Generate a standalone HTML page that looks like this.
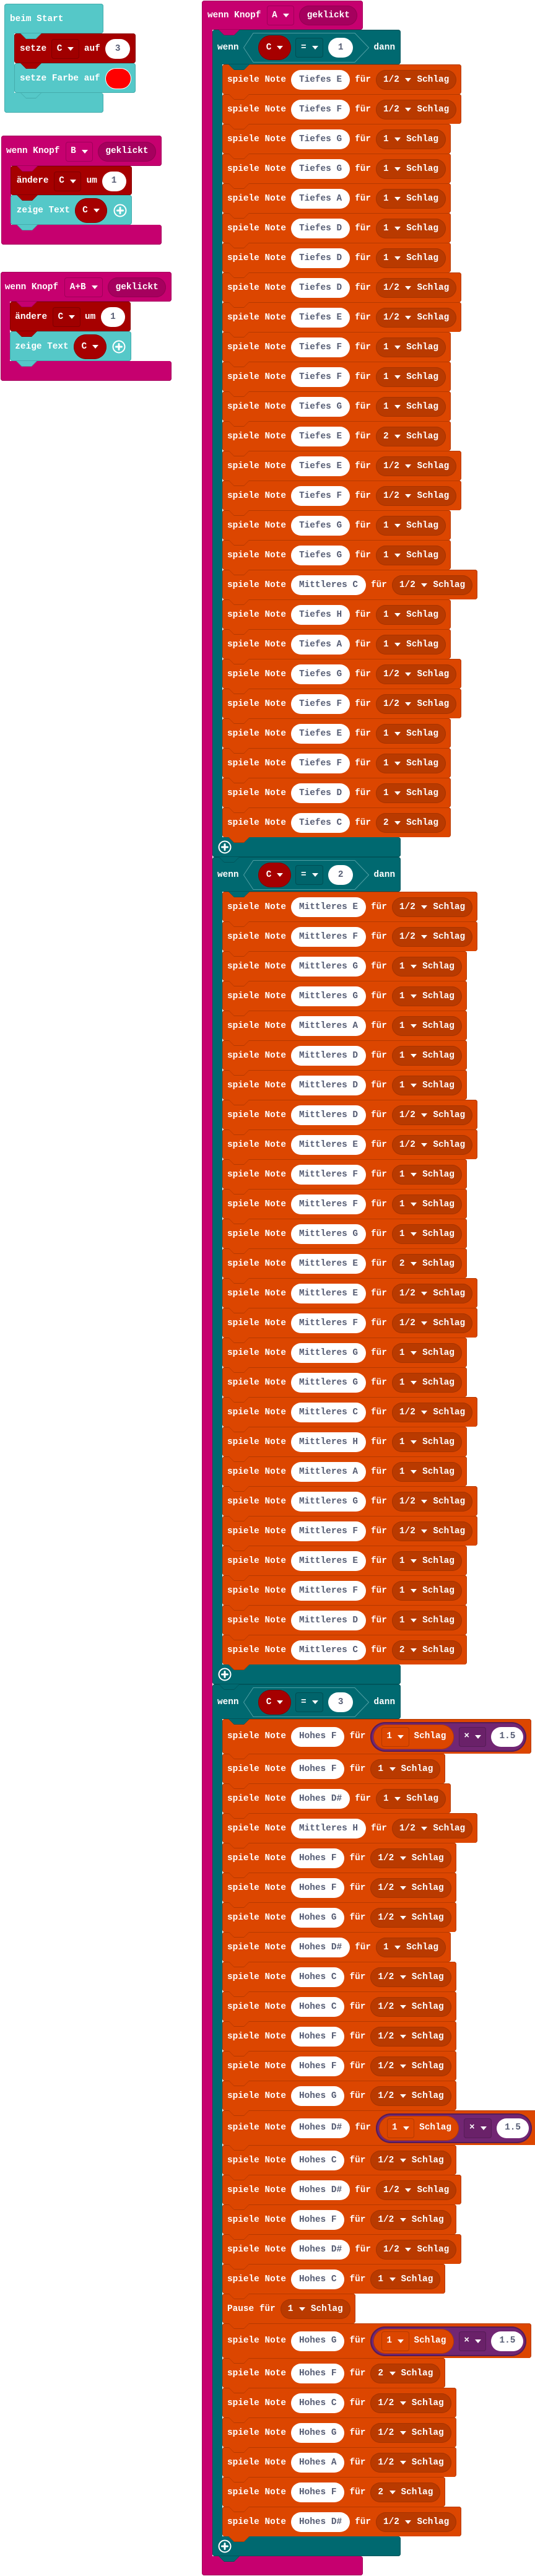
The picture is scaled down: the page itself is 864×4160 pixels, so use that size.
<!DOCTYPE html>
<html><head><meta charset="utf-8">
<style>
*{box-sizing:border-box;margin:0;padding:0}
html,body{width:864px;height:4160px}
body{background:#fff;position:relative;overflow:hidden;font-family:"Liberation Mono","DejaVu Sans Mono",monospace;font-weight:bold;font-size:14.4px;color:#fff;line-height:1;white-space:nowrap}
i{font-style:normal}
b{font-weight:inherit}
.A{position:absolute}
.fx{display:flex;align-items:center}
.mg{background:#c6006f;box-shadow:inset 0 0 0 1px #a3005b}
.tl{background:#006970;box-shadow:inset 0 0 0 1px #00555b}
.lt{background:#55c8c8;box-shadow:inset 0 0 0 1px #44acac}
.rd{background:#a60000;box-shadow:inset 0 0 0 1px #870000}
.r{position:relative;display:flex;align-items:center;width:max-content;height:48px;padding:2px 8px 0;gap:8px;background:#dc4600;border-radius:4px;box-shadow:inset 0 1px 0 #b53900,inset 1px 0 0 #b53900,inset -1px 0 0 #b53900}
.r.q{height:56px;padding-top:1px}
.r::before,.r::after{content:"";position:absolute;top:100%;z-index:2}
.r::before{left:10px;width:34px;height:9px;background:#b53900;clip-path:polygon(0 0,100% 0,calc(100% - 9px) 100%,9px 100%)}
.r::after{left:11px;width:32px;height:8px;background:#dc4600;clip-path:polygon(0 0,100% 0,calc(100% - 8px) 100%,8px 100%)}
.p{display:flex;align-items:center;justify-content:center;height:32px;padding:0 13px;border-radius:16px;background:#fff;color:#575e75}
.d{display:flex;align-items:center;height:32px;padding:0 12px;border-radius:16px;background:#b93a00;box-shadow:inset 0 0 0 1px #a63300}
.a{display:block;width:0;height:0;border-left:5px solid transparent;border-right:5px solid transparent;border-top:6px solid #fff;margin:0 9px 0 9.5px}
.m{display:flex;align-items:center;height:48px;padding:0 5px;border-radius:24px;background:#722673;box-shadow:inset 0 0 0 2px #561c57;gap:8px}
.o{display:flex;align-items:center;height:40px;padding:0 12.5px;border-radius:20px;background:#dc4600;box-shadow:inset 0 0 0 1px #b53900}
.bx{display:flex;align-items:center;height:32px;padding:0 8.5px;border-radius:4px;box-shadow:inset 0 0 0 1px #b53900}
.bx .a,.db .a,.vp .a{margin:0 0 0 9px}
.o .bx{margin-right:8px}
.bp{background:#6a2169;box-shadow:inset 0 0 0 1px #561c57}
.db{display:flex;align-items:center;height:32px;padding:0 8.5px;border-radius:4px;box-shadow:inset 0 0 0 1px #a0005a}
.dr{box-shadow:inset 0 0 0 1px #800000;background:#a00000}
.dt{background:#00646b;box-shadow:inset 0 0 0 1px #004e54}
.gk{display:flex;align-items:center;height:32px;padding:0 12.5px;border-radius:16px;background:#a6005e;box-shadow:inset 0 0 0 1px #930052}
.vp{display:flex;align-items:center;height:40px;padding:0 12.5px;border-radius:20px;background:#a60000;box-shadow:inset 0 0 0 1px #870000}
.ih{left:343px;width:304px;height:56px;border-radius:4px;padding:2px 0 0 8px}
.ia{left:343px;width:16px;background:#006970;box-shadow:inset 1px 0 0 #00555b}
.ib{left:343px;width:304px;height:32px;border-radius:0 4px 4px 4px;background:#006970;box-shadow:inset 1px 0 0 #00555b,inset -1px 0 0 #00555b,inset 0 -1px 0 #00555b}
.hx{position:relative;z-index:0;display:flex;align-items:center;width:203px;height:48px;padding-left:24px}
.hx svg{position:absolute;left:0;top:0;z-index:-1}
.to{position:absolute;width:34px;height:9px;clip-path:polygon(0 0,100% 0,calc(100% - 9px) 100%,9px 100%);z-index:2}
.tf{position:absolute;width:32px;height:8px;clip-path:polygon(0 0,100% 0,calc(100% - 8px) 100%,8px 100%);z-index:2}
.L{position:absolute;left:359px}
</style></head><body>

<!-- ===== beim Start ===== -->
<div class="A lt fx" style="left:7px;top:6px;width:160px;height:48px;border-radius:4px;padding:3px 0 0 9px">beim Start</div>
<div class="A" style="left:7px;top:50px;width:16px;height:104px;background:#55c8c8;box-shadow:inset 1px 0 0 #44acac"></div>
<div class="A" style="left:7px;top:150px;width:160px;height:32px;border-radius:0 4px 4px 4px;background:#55c8c8;box-shadow:inset 1px 0 0 #44acac,inset -1px 0 0 #44acac,inset 0 -1px 0 #44acac"></div>
<div class="A rd fx" style="left:23px;top:54px;width:196px;height:48px;border-radius:4px;padding:2px 0 0 9px">setze<i class="db dr" style="margin-left:8px">C<b class="a"></b></i><span style="margin-left:8px">auf</span><i class="p" style="margin-left:8.5px;width:40px;padding:0">3</i></div>
<div class="A lt fx" style="left:23px;top:102px;width:196px;height:48px;border-radius:4px;padding:2px 0 0 9px">setze Farbe auf<i style="display:block;margin-left:9px;width:40px;height:32px;border-radius:16px;background:#f00;box-shadow:0 0 0 1px #fff"></i></div>
<div class="to" style="left:33px;top:54px;background:#44acac"></div><div class="tf" style="left:34px;top:54px;background:#55c8c8"></div>
<div class="to" style="left:33px;top:102px;background:#870000"></div><div class="tf" style="left:34px;top:102px;background:#a60000"></div>
<div class="to" style="left:33px;top:150px;background:#44acac"></div><div class="tf" style="left:34px;top:150px;background:#55c8c8"></div>

<!-- ===== wenn Knopf B ===== -->
<div class="A mg fx" style="left:2px;top:219px;width:259px;height:49px;border-radius:4px;padding:2px 0 0 8px">wenn Knopf<i class="db" style="margin-left:9.3px">B<b class="a"></b></i><i class="gk" style="margin-left:7.6px">geklickt</i></div>
<div class="A" style="left:2px;top:262px;width:16px;height:106px;background:#c6006f;box-shadow:inset 1px 0 0 #a3005b"></div>
<div class="A" style="left:2px;top:363px;width:259px;height:32px;border-radius:0 4px 4px 4px;background:#c6006f;box-shadow:inset 1px 0 0 #a3005b,inset -1px 0 0 #a3005b,inset 0 -1px 0 #a3005b"></div>
<div class="A rd fx" style="left:17px;top:268px;width:196px;height:47px;border-radius:4px;padding:2px 0 0 9.7px">ändere<i class="db dr" style="margin-left:8.2px">C<b class="a"></b></i><span style="margin-left:8.3px">um</span><i class="p" style="margin-left:7.7px;width:39px;padding:0">1</i></div>
<div class="A lt fx" style="left:17px;top:315px;width:196px;height:48px;border-radius:4px;padding:2px 0 0 9.7px">zeige Text<i class="vp" style="margin-left:7.6px">C<b class="a"></b></i><svg style="margin-left:9.5px" width="22" height="22" viewBox="0 0 22 22"><circle cx="11" cy="11" r="9.5" fill="none" stroke="#fff" stroke-width="2"/><path d="M11 6.5v9M6.5 11h9" stroke="#fff" stroke-width="3" stroke-linecap="round"/></svg></div>
<div class="to" style="left:27px;top:268px;background:#a3005b"></div><div class="tf" style="left:28px;top:268px;background:#c6006f"></div>
<div class="to" style="left:27px;top:315px;background:#870000"></div><div class="tf" style="left:28px;top:315px;background:#a60000"></div>
<div class="to" style="left:27px;top:363px;background:#44acac"></div><div class="tf" style="left:28px;top:363px;background:#55c8c8"></div>

<!-- ===== wenn Knopf A+B ===== -->
<div class="A mg fx" style="left:1px;top:439px;width:276px;height:48px;border-radius:4px;padding:2px 0 0 6.7px">wenn Knopf<i class="db" style="margin-left:10.2px">A+B<b class="a"></b></i><i class="gk" style="margin-left:8px">geklickt</i></div>
<div class="A" style="left:1px;top:482px;width:15px;height:106px;background:#c6006f;box-shadow:inset 1px 0 0 #a3005b"></div>
<div class="A" style="left:1px;top:583px;width:276px;height:32px;border-radius:0 4px 4px 4px;background:#c6006f;box-shadow:inset 1px 0 0 #a3005b,inset -1px 0 0 #a3005b,inset 0 -1px 0 #a3005b"></div>
<div class="A rd fx" style="left:16px;top:487px;width:195px;height:48px;border-radius:4px;padding:2px 0 0 8.3px">ändere<i class="db dr" style="margin-left:8.9px">C<b class="a"></b></i><span style="margin-left:7.3px">um</span><i class="p" style="margin-left:8.7px;width:39px;padding:0">1</i></div>
<div class="A lt fx" style="left:16px;top:535px;width:196px;height:48px;border-radius:4px;padding:2px 0 0 8.3px">zeige Text<i class="vp" style="margin-left:8.3px">C<b class="a"></b></i><svg style="margin-left:9px" width="22" height="22" viewBox="0 0 22 22"><circle cx="11" cy="11" r="9.5" fill="none" stroke="#fff" stroke-width="2"/><path d="M11 6.5v9M6.5 11h9" stroke="#fff" stroke-width="3" stroke-linecap="round"/></svg></div>
<div class="to" style="left:26px;top:487px;background:#a3005b"></div><div class="tf" style="left:27px;top:487px;background:#c6006f"></div>
<div class="to" style="left:26px;top:535px;background:#870000"></div><div class="tf" style="left:27px;top:535px;background:#a60000"></div>
<div class="to" style="left:26px;top:583px;background:#44acac"></div><div class="tf" style="left:27px;top:583px;background:#55c8c8"></div>

<!-- ===== MAIN: wenn Knopf A ===== -->
<div class="A mg fx" style="left:326px;top:1px;width:260px;height:47px;border-radius:4px;padding:1px 0 0 9px">wenn Knopf<i class="db" style="margin-left:9.3px">A<b class="a"></b></i><i class="gk" style="margin-left:8px">geklickt</i></div>
<div class="A" style="left:326px;top:44px;width:17px;height:4090px;background:#c6006f;box-shadow:inset 1px 0 0 #a3005b"></div>
<div class="A" style="left:326px;top:4128px;width:260px;height:31px;border-radius:0 4px 4px 4px;background:#c6006f;box-shadow:inset 1px 0 0 #a3005b,inset -1px 0 0 #a3005b,inset 0 -1px 0 #a3005b"></div>

<!-- IF 1 -->
<div class="A tl fx ih" style="top:48px">wenn<div class="hx" style="margin-left:7.7px"><svg width="203" height="48"><polygon points="0.5,24 16,0.5 180,0.5 202.5,24 180,47.5 16,47.5" fill="#006970" stroke="#4f9ea3"/></svg><i class="vp">C<b class="a"></b></i><i class="db dt" style="margin-left:7.6px">=<b class="a"></b></i><i class="p" style="margin-left:7.7px;width:40.7px;padding:0">1</i></div><span style="margin-left:7.3px">dann</span></div>
<div class="A ia" style="top:100px;height:1256px"></div>
<div class="A ib" style="top:1352px"></div>
<svg class="A" style="left:352px;top:1357px" width="22" height="22" viewBox="0 0 22 22"><circle cx="11" cy="11" r="9.5" fill="none" stroke="#fff" stroke-width="2"/><path d="M11 6.5v9M6.5 11h9" stroke="#fff" stroke-width="3" stroke-linecap="round"/></svg>

<!-- IF 2 -->
<div class="A tl fx ih" style="top:1384px">wenn<div class="hx" style="margin-left:7.7px"><svg width="203" height="48"><polygon points="0.5,24 16,0.5 180,0.5 202.5,24 180,47.5 16,47.5" fill="#006970" stroke="#4f9ea3"/></svg><i class="vp">C<b class="a"></b></i><i class="db dt" style="margin-left:7.6px">=<b class="a"></b></i><i class="p" style="margin-left:7.7px;width:40.7px;padding:0">2</i></div><span style="margin-left:7.3px">dann</span></div>
<div class="A ia" style="top:1436px;height:1256px"></div>
<div class="A ib" style="top:2688px"></div>
<svg class="A" style="left:352px;top:2693px" width="22" height="22" viewBox="0 0 22 22"><circle cx="11" cy="11" r="9.5" fill="none" stroke="#fff" stroke-width="2"/><path d="M11 6.5v9M6.5 11h9" stroke="#fff" stroke-width="3" stroke-linecap="round"/></svg>

<!-- IF 3 -->
<div class="A tl fx ih" style="top:2720px">wenn<div class="hx" style="margin-left:7.7px"><svg width="203" height="48"><polygon points="0.5,24 16,0.5 180,0.5 202.5,24 180,47.5 16,47.5" fill="#006970" stroke="#4f9ea3"/></svg><i class="vp">C<b class="a"></b></i><i class="db dt" style="margin-left:7.6px">=<b class="a"></b></i><i class="p" style="margin-left:7.7px;width:40.7px;padding:0">3</i></div><span style="margin-left:7.3px">dann</span></div>
<div class="A ia" style="top:2772px;height:1328px"></div>
<div class="A ib" style="top:4096px"></div>
<svg class="A" style="left:352px;top:4101px" width="22" height="22" viewBox="0 0 22 22"><circle cx="11" cy="11" r="9.5" fill="none" stroke="#fff" stroke-width="2"/><path d="M11 6.5v9M6.5 11h9" stroke="#fff" stroke-width="3" stroke-linecap="round"/></svg>

<!-- header tabs -->
<div class="to" style="left:353px;top:48px;background:#a3005b"></div><div class="tf" style="left:354px;top:48px;background:#c6006f"></div>
<div class="to" style="left:369px;top:104px;background:#00555b"></div><div class="tf" style="left:370px;top:104px;background:#006970"></div>
<div class="to" style="left:353px;top:1384px;background:#00555b"></div><div class="tf" style="left:354px;top:1384px;background:#006970"></div>
<div class="to" style="left:369px;top:1440px;background:#00555b"></div><div class="tf" style="left:370px;top:1440px;background:#006970"></div>
<div class="to" style="left:353px;top:2720px;background:#00555b"></div><div class="tf" style="left:354px;top:2720px;background:#006970"></div>
<div class="to" style="left:369px;top:2776px;background:#00555b"></div><div class="tf" style="left:370px;top:2776px;background:#006970"></div>
<div class="to" style="left:353px;top:4128px;background:#00555b"></div><div class="tf" style="left:354px;top:4128px;background:#006970"></div>

<!-- NOTES 1 -->
<div class="L" style="top:104px">
<div class=r>spiele Note<i class=p>Tiefes E</i>für<i class=d>1/2<b class=a></b>Schlag</i></div>
<div class=r>spiele Note<i class=p>Tiefes F</i>für<i class=d>1/2<b class=a></b>Schlag</i></div>
<div class=r>spiele Note<i class=p>Tiefes G</i>für<i class=d>1<b class=a></b>Schlag</i></div>
<div class=r>spiele Note<i class=p>Tiefes G</i>für<i class=d>1<b class=a></b>Schlag</i></div>
<div class=r>spiele Note<i class=p>Tiefes A</i>für<i class=d>1<b class=a></b>Schlag</i></div>
<div class=r>spiele Note<i class=p>Tiefes D</i>für<i class=d>1<b class=a></b>Schlag</i></div>
<div class=r>spiele Note<i class=p>Tiefes D</i>für<i class=d>1<b class=a></b>Schlag</i></div>
<div class=r>spiele Note<i class=p>Tiefes D</i>für<i class=d>1/2<b class=a></b>Schlag</i></div>
<div class=r>spiele Note<i class=p>Tiefes E</i>für<i class=d>1/2<b class=a></b>Schlag</i></div>
<div class=r>spiele Note<i class=p>Tiefes F</i>für<i class=d>1<b class=a></b>Schlag</i></div>
<div class=r>spiele Note<i class=p>Tiefes F</i>für<i class=d>1<b class=a></b>Schlag</i></div>
<div class=r>spiele Note<i class=p>Tiefes G</i>für<i class=d>1<b class=a></b>Schlag</i></div>
<div class=r>spiele Note<i class=p>Tiefes E</i>für<i class=d>2<b class=a></b>Schlag</i></div>
<div class=r>spiele Note<i class=p>Tiefes E</i>für<i class=d>1/2<b class=a></b>Schlag</i></div>
<div class=r>spiele Note<i class=p>Tiefes F</i>für<i class=d>1/2<b class=a></b>Schlag</i></div>
<div class=r>spiele Note<i class=p>Tiefes G</i>für<i class=d>1<b class=a></b>Schlag</i></div>
<div class=r>spiele Note<i class=p>Tiefes G</i>für<i class=d>1<b class=a></b>Schlag</i></div>
<div class=r>spiele Note<i class=p>Mittleres C</i>für<i class=d>1/2<b class=a></b>Schlag</i></div>
<div class=r>spiele Note<i class=p>Tiefes H</i>für<i class=d>1<b class=a></b>Schlag</i></div>
<div class=r>spiele Note<i class=p>Tiefes A</i>für<i class=d>1<b class=a></b>Schlag</i></div>
<div class=r>spiele Note<i class=p>Tiefes G</i>für<i class=d>1/2<b class=a></b>Schlag</i></div>
<div class=r>spiele Note<i class=p>Tiefes F</i>für<i class=d>1/2<b class=a></b>Schlag</i></div>
<div class=r>spiele Note<i class=p>Tiefes E</i>für<i class=d>1<b class=a></b>Schlag</i></div>
<div class=r>spiele Note<i class=p>Tiefes F</i>für<i class=d>1<b class=a></b>Schlag</i></div>
<div class=r>spiele Note<i class=p>Tiefes D</i>für<i class=d>1<b class=a></b>Schlag</i></div>
<div class=r>spiele Note<i class=p>Tiefes C</i>für<i class=d>2<b class=a></b>Schlag</i></div>
</div>

<!-- NOTES 2 -->
<div class="L" style="top:1440px">
<div class=r>spiele Note<i class=p>Mittleres E</i>für<i class=d>1/2<b class=a></b>Schlag</i></div>
<div class=r>spiele Note<i class=p>Mittleres F</i>für<i class=d>1/2<b class=a></b>Schlag</i></div>
<div class=r>spiele Note<i class=p>Mittleres G</i>für<i class=d>1<b class=a></b>Schlag</i></div>
<div class=r>spiele Note<i class=p>Mittleres G</i>für<i class=d>1<b class=a></b>Schlag</i></div>
<div class=r>spiele Note<i class=p>Mittleres A</i>für<i class=d>1<b class=a></b>Schlag</i></div>
<div class=r>spiele Note<i class=p>Mittleres D</i>für<i class=d>1<b class=a></b>Schlag</i></div>
<div class=r>spiele Note<i class=p>Mittleres D</i>für<i class=d>1<b class=a></b>Schlag</i></div>
<div class=r>spiele Note<i class=p>Mittleres D</i>für<i class=d>1/2<b class=a></b>Schlag</i></div>
<div class=r>spiele Note<i class=p>Mittleres E</i>für<i class=d>1/2<b class=a></b>Schlag</i></div>
<div class=r>spiele Note<i class=p>Mittleres F</i>für<i class=d>1<b class=a></b>Schlag</i></div>
<div class=r>spiele Note<i class=p>Mittleres F</i>für<i class=d>1<b class=a></b>Schlag</i></div>
<div class=r>spiele Note<i class=p>Mittleres G</i>für<i class=d>1<b class=a></b>Schlag</i></div>
<div class=r>spiele Note<i class=p>Mittleres E</i>für<i class=d>2<b class=a></b>Schlag</i></div>
<div class=r>spiele Note<i class=p>Mittleres E</i>für<i class=d>1/2<b class=a></b>Schlag</i></div>
<div class=r>spiele Note<i class=p>Mittleres F</i>für<i class=d>1/2<b class=a></b>Schlag</i></div>
<div class=r>spiele Note<i class=p>Mittleres G</i>für<i class=d>1<b class=a></b>Schlag</i></div>
<div class=r>spiele Note<i class=p>Mittleres G</i>für<i class=d>1<b class=a></b>Schlag</i></div>
<div class=r>spiele Note<i class=p>Mittleres C</i>für<i class=d>1/2<b class=a></b>Schlag</i></div>
<div class=r>spiele Note<i class=p>Mittleres H</i>für<i class=d>1<b class=a></b>Schlag</i></div>
<div class=r>spiele Note<i class=p>Mittleres A</i>für<i class=d>1<b class=a></b>Schlag</i></div>
<div class=r>spiele Note<i class=p>Mittleres G</i>für<i class=d>1/2<b class=a></b>Schlag</i></div>
<div class=r>spiele Note<i class=p>Mittleres F</i>für<i class=d>1/2<b class=a></b>Schlag</i></div>
<div class=r>spiele Note<i class=p>Mittleres E</i>für<i class=d>1<b class=a></b>Schlag</i></div>
<div class=r>spiele Note<i class=p>Mittleres F</i>für<i class=d>1<b class=a></b>Schlag</i></div>
<div class=r>spiele Note<i class=p>Mittleres D</i>für<i class=d>1<b class=a></b>Schlag</i></div>
<div class=r>spiele Note<i class=p>Mittleres C</i>für<i class=d>2<b class=a></b>Schlag</i></div>
</div>

<!-- NOTES 3 -->
<div class="L" style="top:2776px">
<div class="r q">spiele Note<i class=p>Hohes F</i>für<i class=m><i class=o><i class=bx>1<b class=a></b></i>Schlag</i><i class="bx bp">×<b class=a></b></i><i class=p>1.5</i></i></div>
<div class=r>spiele Note<i class=p>Hohes F</i>für<i class=d>1<b class=a></b>Schlag</i></div>
<div class=r>spiele Note<i class=p>Hohes D#</i>für<i class=d>1<b class=a></b>Schlag</i></div>
<div class=r>spiele Note<i class=p>Mittleres H</i>für<i class=d>1/2<b class=a></b>Schlag</i></div>
<div class=r>spiele Note<i class=p>Hohes F</i>für<i class=d>1/2<b class=a></b>Schlag</i></div>
<div class=r>spiele Note<i class=p>Hohes F</i>für<i class=d>1/2<b class=a></b>Schlag</i></div>
<div class=r>spiele Note<i class=p>Hohes G</i>für<i class=d>1/2<b class=a></b>Schlag</i></div>
<div class=r>spiele Note<i class=p>Hohes D#</i>für<i class=d>1<b class=a></b>Schlag</i></div>
<div class=r>spiele Note<i class=p>Hohes C</i>für<i class=d>1/2<b class=a></b>Schlag</i></div>
<div class=r>spiele Note<i class=p>Hohes C</i>für<i class=d>1/2<b class=a></b>Schlag</i></div>
<div class=r>spiele Note<i class=p>Hohes F</i>für<i class=d>1/2<b class=a></b>Schlag</i></div>
<div class=r>spiele Note<i class=p>Hohes F</i>für<i class=d>1/2<b class=a></b>Schlag</i></div>
<div class=r>spiele Note<i class=p>Hohes G</i>für<i class=d>1/2<b class=a></b>Schlag</i></div>
<div class="r q">spiele Note<i class=p>Hohes D#</i>für<i class=m><i class=o><i class=bx>1<b class=a></b></i>Schlag</i><i class="bx bp">×<b class=a></b></i><i class=p>1.5</i></i></div>
<div class=r>spiele Note<i class=p>Hohes C</i>für<i class=d>1/2<b class=a></b>Schlag</i></div>
<div class=r>spiele Note<i class=p>Hohes D#</i>für<i class=d>1/2<b class=a></b>Schlag</i></div>
<div class=r>spiele Note<i class=p>Hohes F</i>für<i class=d>1/2<b class=a></b>Schlag</i></div>
<div class=r>spiele Note<i class=p>Hohes D#</i>für<i class=d>1/2<b class=a></b>Schlag</i></div>
<div class=r>spiele Note<i class=p>Hohes C</i>für<i class=d>1<b class=a></b>Schlag</i></div>
<div class=r>Pause für<i class=d>1<b class=a></b>Schlag</i></div>
<div class="r q">spiele Note<i class=p>Hohes G</i>für<i class=m><i class=o><i class=bx>1<b class=a></b></i>Schlag</i><i class="bx bp">×<b class=a></b></i><i class=p>1.5</i></i></div>
<div class=r>spiele Note<i class=p>Hohes F</i>für<i class=d>2<b class=a></b>Schlag</i></div>
<div class=r>spiele Note<i class=p>Hohes C</i>für<i class=d>1/2<b class=a></b>Schlag</i></div>
<div class=r>spiele Note<i class=p>Hohes G</i>für<i class=d>1/2<b class=a></b>Schlag</i></div>
<div class=r>spiele Note<i class=p>Hohes A</i>für<i class=d>1/2<b class=a></b>Schlag</i></div>
<div class=r>spiele Note<i class=p>Hohes F</i>für<i class=d>2<b class=a></b>Schlag</i></div>
<div class=r>spiele Note<i class=p>Hohes D#</i>für<i class=d>1/2<b class=a></b>Schlag</i></div>
</div>

</body></html>
